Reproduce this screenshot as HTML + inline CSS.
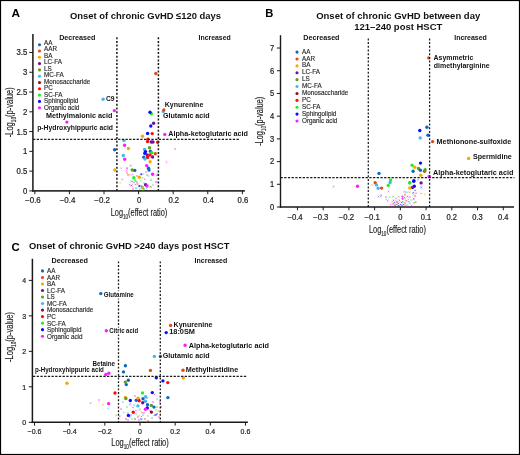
<!DOCTYPE html>
<html><head><meta charset="utf-8"><style>
html,body{margin:0;padding:0;background:#fff;}
body{width:520px;height:455px;overflow:hidden;}
svg{display:block;font-family:"Liberation Sans",sans-serif;will-change:transform;}
</style></head><body>
<svg width="520" height="455" viewBox="0 0 520 455">
<text x="11.4" y="16.9" font-size="11.8" font-weight="bold" text-anchor="start" fill="#000">A</text>
<text x="70" y="18.8" font-size="9.9" font-weight="bold" text-anchor="start" fill="#111" textLength="151" lengthAdjust="spacingAndGlyphs">Onset of chronic GvHD ≤120 days</text>
<text x="265.3" y="16.8" font-size="11.2" font-weight="bold" text-anchor="start" fill="#000">B</text>
<text x="316.2" y="18.5" font-size="9.9" font-weight="bold" text-anchor="start" fill="#111" textLength="164" lengthAdjust="spacingAndGlyphs">Onset of chronic GvHD between day</text>
<text x="354.3" y="30.4" font-size="9.9" font-weight="bold" text-anchor="start" fill="#111" textLength="88" lengthAdjust="spacingAndGlyphs">121–240 post HSCT</text>
<text x="11.6" y="251.2" font-size="11.4" font-weight="bold" text-anchor="start" fill="#000">C</text>
<text x="29" y="248.9" font-size="9.9" font-weight="bold" text-anchor="start" fill="#111" textLength="200.5" lengthAdjust="spacingAndGlyphs">Onset of chronic GvHD &gt;240 days post HSCT</text>
<line x1="32.9" y1="34" x2="32.9" y2="191.75" stroke="#333" stroke-width="1.7"/>
<line x1="32.05" y1="190.9" x2="244.9" y2="190.9" stroke="#333" stroke-width="1.7"/>
<line x1="29.299999999999997" y1="190.9" x2="32.9" y2="190.9" stroke="#1a1a1a" stroke-width="1.0"/>
<text x="27.3" y="193.88" font-size="8.4" font-weight="normal" text-anchor="end" fill="#222" textLength="4.3" lengthAdjust="spacingAndGlyphs" stroke="#222" stroke-width="0.22">0</text>
<line x1="29.299999999999997" y1="171.125" x2="32.9" y2="171.125" stroke="#1a1a1a" stroke-width="1.0"/>
<text x="27.3" y="174.11" font-size="8.4" font-weight="normal" text-anchor="end" fill="#222" textLength="10.74" lengthAdjust="spacingAndGlyphs" stroke="#222" stroke-width="0.22">0.5</text>
<line x1="29.299999999999997" y1="151.35000000000002" x2="32.9" y2="151.35000000000002" stroke="#1a1a1a" stroke-width="1.0"/>
<text x="27.3" y="154.33" font-size="8.4" font-weight="normal" text-anchor="end" fill="#222" textLength="4.3" lengthAdjust="spacingAndGlyphs" stroke="#222" stroke-width="0.22">1</text>
<line x1="29.299999999999997" y1="131.57500000000002" x2="32.9" y2="131.57500000000002" stroke="#1a1a1a" stroke-width="1.0"/>
<text x="27.3" y="134.56" font-size="8.4" font-weight="normal" text-anchor="end" fill="#222" textLength="10.74" lengthAdjust="spacingAndGlyphs" stroke="#222" stroke-width="0.22">1.5</text>
<line x1="29.299999999999997" y1="111.80000000000001" x2="32.9" y2="111.80000000000001" stroke="#1a1a1a" stroke-width="1.0"/>
<text x="27.3" y="114.78" font-size="8.4" font-weight="normal" text-anchor="end" fill="#222" textLength="4.3" lengthAdjust="spacingAndGlyphs" stroke="#222" stroke-width="0.22">2</text>
<line x1="29.299999999999997" y1="92.025" x2="32.9" y2="92.025" stroke="#1a1a1a" stroke-width="1.0"/>
<text x="27.3" y="95.01" font-size="8.4" font-weight="normal" text-anchor="end" fill="#222" textLength="10.74" lengthAdjust="spacingAndGlyphs" stroke="#222" stroke-width="0.22">2.5</text>
<line x1="29.299999999999997" y1="72.25000000000001" x2="32.9" y2="72.25000000000001" stroke="#1a1a1a" stroke-width="1.0"/>
<text x="27.3" y="75.23" font-size="8.4" font-weight="normal" text-anchor="end" fill="#222" textLength="4.3" lengthAdjust="spacingAndGlyphs" stroke="#222" stroke-width="0.22">3</text>
<line x1="29.299999999999997" y1="52.47500000000002" x2="32.9" y2="52.47500000000002" stroke="#1a1a1a" stroke-width="1.0"/>
<text x="27.3" y="55.46" font-size="8.4" font-weight="normal" text-anchor="end" fill="#222" textLength="10.74" lengthAdjust="spacingAndGlyphs" stroke="#222" stroke-width="0.22">3.5</text>
<line x1="34.83" y1="190.9" x2="34.83" y2="194.20000000000002" stroke="#1a1a1a" stroke-width="1.0"/>
<text x="40.8" y="202.8" font-size="8.4" font-weight="normal" text-anchor="end" fill="#222" textLength="15.66" lengthAdjust="spacingAndGlyphs" stroke="#222" stroke-width="0.22">−0.6</text>
<line x1="69.42" y1="190.9" x2="69.42" y2="194.20000000000002" stroke="#1a1a1a" stroke-width="1.0"/>
<text x="75.39" y="202.8" font-size="8.4" font-weight="normal" text-anchor="end" fill="#222" textLength="15.66" lengthAdjust="spacingAndGlyphs" stroke="#222" stroke-width="0.22">−0.4</text>
<line x1="104.00999999999999" y1="190.9" x2="104.00999999999999" y2="194.20000000000002" stroke="#1a1a1a" stroke-width="1.0"/>
<text x="109.98" y="202.8" font-size="8.4" font-weight="normal" text-anchor="end" fill="#222" textLength="15.66" lengthAdjust="spacingAndGlyphs" stroke="#222" stroke-width="0.22">−0.2</text>
<line x1="138.6" y1="190.9" x2="138.6" y2="194.20000000000002" stroke="#1a1a1a" stroke-width="1.0"/>
<text x="139.2" y="202.8" font-size="8.4" font-weight="normal" text-anchor="middle" fill="#222" textLength="4.3" lengthAdjust="spacingAndGlyphs" stroke="#222" stroke-width="0.22">0</text>
<line x1="173.19" y1="190.9" x2="173.19" y2="194.20000000000002" stroke="#1a1a1a" stroke-width="1.0"/>
<text x="173.79" y="202.8" font-size="8.4" font-weight="normal" text-anchor="middle" fill="#222" textLength="10.74" lengthAdjust="spacingAndGlyphs" stroke="#222" stroke-width="0.22">0.2</text>
<line x1="207.77999999999997" y1="190.9" x2="207.77999999999997" y2="194.20000000000002" stroke="#1a1a1a" stroke-width="1.0"/>
<text x="208.38" y="202.8" font-size="8.4" font-weight="normal" text-anchor="middle" fill="#222" textLength="10.74" lengthAdjust="spacingAndGlyphs" stroke="#222" stroke-width="0.22">0.4</text>
<line x1="242.37" y1="190.9" x2="242.37" y2="194.20000000000002" stroke="#1a1a1a" stroke-width="1.0"/>
<text x="242.97" y="202.8" font-size="8.4" font-weight="normal" text-anchor="middle" fill="#222" textLength="10.74" lengthAdjust="spacingAndGlyphs" stroke="#222" stroke-width="0.22">0.6</text>
<line x1="280.5" y1="35.2" x2="280.5" y2="207.7" stroke="#1a1a1a" stroke-width="1.4"/>
<line x1="279.8" y1="207" x2="514" y2="207" stroke="#1a1a1a" stroke-width="1.4"/>
<line x1="276.9" y1="207.0" x2="280.5" y2="207.0" stroke="#1a1a1a" stroke-width="1.0"/>
<text x="274.2" y="209.91" font-size="8.2" font-weight="normal" text-anchor="end" fill="#222" textLength="4.2" lengthAdjust="spacingAndGlyphs" stroke="#222" stroke-width="0.22">0</text>
<line x1="276.9" y1="184.29" x2="280.5" y2="184.29" stroke="#1a1a1a" stroke-width="1.0"/>
<text x="274.2" y="187.2" font-size="8.2" font-weight="normal" text-anchor="end" fill="#222" textLength="4.2" lengthAdjust="spacingAndGlyphs" stroke="#222" stroke-width="0.22">1</text>
<line x1="276.9" y1="161.57999999999998" x2="280.5" y2="161.57999999999998" stroke="#1a1a1a" stroke-width="1.0"/>
<text x="274.2" y="164.49" font-size="8.2" font-weight="normal" text-anchor="end" fill="#222" textLength="4.2" lengthAdjust="spacingAndGlyphs" stroke="#222" stroke-width="0.22">2</text>
<line x1="276.9" y1="138.87" x2="280.5" y2="138.87" stroke="#1a1a1a" stroke-width="1.0"/>
<text x="274.2" y="141.78" font-size="8.2" font-weight="normal" text-anchor="end" fill="#222" textLength="4.2" lengthAdjust="spacingAndGlyphs" stroke="#222" stroke-width="0.22">3</text>
<line x1="276.9" y1="116.16" x2="280.5" y2="116.16" stroke="#1a1a1a" stroke-width="1.0"/>
<text x="274.2" y="119.07" font-size="8.2" font-weight="normal" text-anchor="end" fill="#222" textLength="4.2" lengthAdjust="spacingAndGlyphs" stroke="#222" stroke-width="0.22">4</text>
<line x1="276.9" y1="93.44999999999999" x2="280.5" y2="93.44999999999999" stroke="#1a1a1a" stroke-width="1.0"/>
<text x="274.2" y="96.36" font-size="8.2" font-weight="normal" text-anchor="end" fill="#222" textLength="4.2" lengthAdjust="spacingAndGlyphs" stroke="#222" stroke-width="0.22">5</text>
<line x1="276.9" y1="70.74000000000001" x2="280.5" y2="70.74000000000001" stroke="#1a1a1a" stroke-width="1.0"/>
<text x="274.2" y="73.65" font-size="8.2" font-weight="normal" text-anchor="end" fill="#222" textLength="4.2" lengthAdjust="spacingAndGlyphs" stroke="#222" stroke-width="0.22">6</text>
<line x1="276.9" y1="48.03" x2="280.5" y2="48.03" stroke="#1a1a1a" stroke-width="1.0"/>
<text x="274.2" y="50.94" font-size="8.2" font-weight="normal" text-anchor="end" fill="#222" textLength="4.2" lengthAdjust="spacingAndGlyphs" stroke="#222" stroke-width="0.22">7</text>
<line x1="297.45000000000005" y1="207" x2="297.45000000000005" y2="210.3" stroke="#1a1a1a" stroke-width="1.0"/>
<text x="302.69" y="219.6" font-size="8.2" font-weight="normal" text-anchor="end" fill="#222" textLength="15.29" lengthAdjust="spacingAndGlyphs" stroke="#222" stroke-width="0.22">−0.4</text>
<line x1="323.175" y1="207" x2="323.175" y2="210.3" stroke="#1a1a1a" stroke-width="1.0"/>
<text x="328.42" y="219.6" font-size="8.2" font-weight="normal" text-anchor="end" fill="#222" textLength="15.29" lengthAdjust="spacingAndGlyphs" stroke="#222" stroke-width="0.22">−0.3</text>
<line x1="348.90000000000003" y1="207" x2="348.90000000000003" y2="210.3" stroke="#1a1a1a" stroke-width="1.0"/>
<text x="354.14" y="219.6" font-size="8.2" font-weight="normal" text-anchor="end" fill="#222" textLength="15.29" lengthAdjust="spacingAndGlyphs" stroke="#222" stroke-width="0.22">−0.2</text>
<line x1="374.625" y1="207" x2="374.625" y2="210.3" stroke="#1a1a1a" stroke-width="1.0"/>
<text x="379.87" y="219.6" font-size="8.2" font-weight="normal" text-anchor="end" fill="#222" textLength="15.29" lengthAdjust="spacingAndGlyphs" stroke="#222" stroke-width="0.22">−0.1</text>
<line x1="400.35" y1="207" x2="400.35" y2="210.3" stroke="#1a1a1a" stroke-width="1.0"/>
<text x="400.35" y="219.6" font-size="8.2" font-weight="normal" text-anchor="middle" fill="#222" textLength="4.2" lengthAdjust="spacingAndGlyphs" stroke="#222" stroke-width="0.22">0</text>
<line x1="426.07500000000005" y1="207" x2="426.07500000000005" y2="210.3" stroke="#1a1a1a" stroke-width="1.0"/>
<text x="426.08" y="219.6" font-size="8.2" font-weight="normal" text-anchor="middle" fill="#222" textLength="10.49" lengthAdjust="spacingAndGlyphs" stroke="#222" stroke-width="0.22">0.1</text>
<line x1="451.8" y1="207" x2="451.8" y2="210.3" stroke="#1a1a1a" stroke-width="1.0"/>
<text x="451.8" y="219.6" font-size="8.2" font-weight="normal" text-anchor="middle" fill="#222" textLength="10.49" lengthAdjust="spacingAndGlyphs" stroke="#222" stroke-width="0.22">0.2</text>
<line x1="477.52500000000003" y1="207" x2="477.52500000000003" y2="210.3" stroke="#1a1a1a" stroke-width="1.0"/>
<text x="477.53" y="219.6" font-size="8.2" font-weight="normal" text-anchor="middle" fill="#222" textLength="10.49" lengthAdjust="spacingAndGlyphs" stroke="#222" stroke-width="0.22">0.3</text>
<line x1="503.25" y1="207" x2="503.25" y2="210.3" stroke="#1a1a1a" stroke-width="1.0"/>
<text x="503.25" y="219.6" font-size="8.2" font-weight="normal" text-anchor="middle" fill="#222" textLength="10.49" lengthAdjust="spacingAndGlyphs" stroke="#222" stroke-width="0.22">0.4</text>
<line x1="32.4" y1="258.75" x2="32.4" y2="423.05" stroke="#1a1a1a" stroke-width="1.5"/>
<line x1="31.65" y1="422.3" x2="247.9" y2="422.3" stroke="#1a1a1a" stroke-width="1.5"/>
<line x1="28.799999999999997" y1="422.3" x2="32.4" y2="422.3" stroke="#1a1a1a" stroke-width="1.0"/>
<text x="26.1" y="425.0" font-size="7.6" font-weight="normal" text-anchor="end" fill="#222" textLength="3.89" lengthAdjust="spacingAndGlyphs" stroke="#222" stroke-width="0.22">0</text>
<line x1="28.799999999999997" y1="386.82" x2="32.4" y2="386.82" stroke="#1a1a1a" stroke-width="1.0"/>
<text x="26.1" y="389.52" font-size="7.6" font-weight="normal" text-anchor="end" fill="#222" textLength="3.89" lengthAdjust="spacingAndGlyphs" stroke="#222" stroke-width="0.22">1</text>
<line x1="28.799999999999997" y1="351.34000000000003" x2="32.4" y2="351.34000000000003" stroke="#1a1a1a" stroke-width="1.0"/>
<text x="26.1" y="354.04" font-size="7.6" font-weight="normal" text-anchor="end" fill="#222" textLength="3.89" lengthAdjust="spacingAndGlyphs" stroke="#222" stroke-width="0.22">2</text>
<line x1="28.799999999999997" y1="315.86" x2="32.4" y2="315.86" stroke="#1a1a1a" stroke-width="1.0"/>
<text x="26.1" y="318.56" font-size="7.6" font-weight="normal" text-anchor="end" fill="#222" textLength="3.89" lengthAdjust="spacingAndGlyphs" stroke="#222" stroke-width="0.22">3</text>
<line x1="28.799999999999997" y1="280.38" x2="32.4" y2="280.38" stroke="#1a1a1a" stroke-width="1.0"/>
<text x="26.1" y="283.08" font-size="7.6" font-weight="normal" text-anchor="end" fill="#222" textLength="3.89" lengthAdjust="spacingAndGlyphs" stroke="#222" stroke-width="0.22">4</text>
<line x1="34.519999999999996" y1="422.3" x2="34.519999999999996" y2="425.6" stroke="#1a1a1a" stroke-width="1.0"/>
<text x="34.52" y="434.0" font-size="7.6" font-weight="normal" text-anchor="middle" fill="#222" textLength="13.8" lengthAdjust="spacingAndGlyphs" stroke="#222" stroke-width="0.22">−0.6</text>
<line x1="69.67999999999999" y1="422.3" x2="69.67999999999999" y2="425.6" stroke="#1a1a1a" stroke-width="1.0"/>
<text x="69.68" y="434.0" font-size="7.6" font-weight="normal" text-anchor="middle" fill="#222" textLength="13.8" lengthAdjust="spacingAndGlyphs" stroke="#222" stroke-width="0.22">−0.4</text>
<line x1="104.84" y1="422.3" x2="104.84" y2="425.6" stroke="#1a1a1a" stroke-width="1.0"/>
<text x="104.84" y="434.0" font-size="7.6" font-weight="normal" text-anchor="middle" fill="#222" textLength="13.8" lengthAdjust="spacingAndGlyphs" stroke="#222" stroke-width="0.22">−0.2</text>
<line x1="140.0" y1="422.3" x2="140.0" y2="425.6" stroke="#1a1a1a" stroke-width="1.0"/>
<text x="140.0" y="434.0" font-size="7.6" font-weight="normal" text-anchor="middle" fill="#222" textLength="3.89" lengthAdjust="spacingAndGlyphs" stroke="#222" stroke-width="0.22">0</text>
<line x1="175.16" y1="422.3" x2="175.16" y2="425.6" stroke="#1a1a1a" stroke-width="1.0"/>
<text x="175.16" y="434.0" font-size="7.6" font-weight="normal" text-anchor="middle" fill="#222" textLength="9.72" lengthAdjust="spacingAndGlyphs" stroke="#222" stroke-width="0.22">0.2</text>
<line x1="210.32" y1="422.3" x2="210.32" y2="425.6" stroke="#1a1a1a" stroke-width="1.0"/>
<text x="210.32" y="434.0" font-size="7.6" font-weight="normal" text-anchor="middle" fill="#222" textLength="9.72" lengthAdjust="spacingAndGlyphs" stroke="#222" stroke-width="0.22">0.4</text>
<line x1="245.48000000000002" y1="422.3" x2="245.48000000000002" y2="425.6" stroke="#1a1a1a" stroke-width="1.0"/>
<text x="245.48" y="434.0" font-size="7.6" font-weight="normal" text-anchor="middle" fill="#222" textLength="9.72" lengthAdjust="spacingAndGlyphs" stroke="#222" stroke-width="0.22">0.6</text>
<g transform="translate(12.6,112.3) rotate(-90)"><text x="0" y="0" font-size="10.2" text-anchor="middle" fill="#222" stroke="#222" stroke-width="0.15" textLength="50" lengthAdjust="spacingAndGlyphs">-Log<tspan font-size="6.3" dy="3">10</tspan><tspan dy="-3">(p-value)</tspan></text></g>
<text x="139" y="215.8" font-size="10.2" text-anchor="middle" fill="#222" stroke="#222" stroke-width="0.15" textLength="56.5" lengthAdjust="spacingAndGlyphs">Log<tspan font-size="6.3" dy="3">10</tspan><tspan dy="-3">(effect ratio)</tspan></text>
<g transform="translate(263.4,121.3) rotate(-90)"><text x="0" y="0" font-size="10.2" text-anchor="middle" fill="#222" stroke="#222" stroke-width="0.15" textLength="49" lengthAdjust="spacingAndGlyphs">-Log<tspan font-size="6.3" dy="3">10</tspan><tspan dy="-3">(p-value)</tspan></text></g>
<text x="397.4" y="232.8" font-size="10.2" text-anchor="middle" fill="#222" stroke="#222" stroke-width="0.15" textLength="57" lengthAdjust="spacingAndGlyphs">Log<tspan font-size="6.3" dy="3">10</tspan><tspan dy="-3">(effect ratio)</tspan></text>
<g transform="translate(12.6,337) rotate(-90)"><text x="0" y="0" font-size="10.2" text-anchor="middle" fill="#222" stroke="#222" stroke-width="0.15" textLength="50" lengthAdjust="spacingAndGlyphs">-Log<tspan font-size="6.3" dy="3">10</tspan><tspan dy="-3">(p-value)</tspan></text></g>
<text x="140" y="446.3" font-size="10.2" text-anchor="middle" fill="#222" stroke="#222" stroke-width="0.15" textLength="57.5" lengthAdjust="spacingAndGlyphs">Log<tspan font-size="6.3" dy="3">10</tspan><tspan dy="-3">(effect ratio)</tspan></text>
<text x="59.2" y="40" font-size="7.5" font-weight="bold" text-anchor="start" fill="#111" textLength="36.2" lengthAdjust="spacingAndGlyphs">Decreased</text>
<text x="198.5" y="40" font-size="7.5" font-weight="bold" text-anchor="start" fill="#111" textLength="32.3" lengthAdjust="spacingAndGlyphs">Increased</text>
<text x="303.3" y="40.1" font-size="7.5" font-weight="bold" text-anchor="start" fill="#111" textLength="36.2" lengthAdjust="spacingAndGlyphs">Decreased</text>
<text x="454.2" y="40" font-size="7.5" font-weight="bold" text-anchor="start" fill="#111" textLength="32.7" lengthAdjust="spacingAndGlyphs">Increased</text>
<text x="51.5" y="263.3" font-size="7.5" font-weight="bold" text-anchor="start" fill="#111" textLength="36.5" lengthAdjust="spacingAndGlyphs">Decreased</text>
<text x="194.6" y="263.3" font-size="7.5" font-weight="bold" text-anchor="start" fill="#111" textLength="32.7" lengthAdjust="spacingAndGlyphs">Increased</text>
<circle cx="39.5" cy="44.7" r="1.55" fill="#0a66c2"/>
<text x="44.0" y="44.8" font-size="6.3" font-weight="normal" text-anchor="start" fill="#2a2a2a" stroke="#2a2a2a" stroke-width="0.15">AA</text>
<circle cx="39.5" cy="51.0" r="1.55" fill="#e2471a"/>
<text x="44.0" y="51.29" font-size="6.3" font-weight="normal" text-anchor="start" fill="#2a2a2a" stroke="#2a2a2a" stroke-width="0.15">AAR</text>
<circle cx="39.5" cy="57.3" r="1.55" fill="#f2a900"/>
<text x="44.0" y="57.78" font-size="6.3" font-weight="normal" text-anchor="start" fill="#2a2a2a" stroke="#2a2a2a" stroke-width="0.15">BA</text>
<circle cx="39.5" cy="63.6" r="1.55" fill="#70109a"/>
<text x="44.0" y="64.27" font-size="6.3" font-weight="normal" text-anchor="start" fill="#2a2a2a" stroke="#2a2a2a" stroke-width="0.15">LC-FA</text>
<circle cx="39.5" cy="69.9" r="1.55" fill="#5e9e20"/>
<text x="44.0" y="70.76" font-size="6.3" font-weight="normal" text-anchor="start" fill="#2a2a2a" stroke="#2a2a2a" stroke-width="0.15">LS</text>
<circle cx="39.5" cy="76.2" r="1.55" fill="#3db8f5"/>
<text x="44.0" y="77.25" font-size="6.3" font-weight="normal" text-anchor="start" fill="#2a2a2a" stroke="#2a2a2a" stroke-width="0.15">MC-FA</text>
<circle cx="39.5" cy="82.5" r="1.55" fill="#8b1020"/>
<text x="44.0" y="83.74" font-size="6.3" font-weight="normal" text-anchor="start" fill="#2a2a2a" stroke="#2a2a2a" stroke-width="0.15">Monosaccharide</text>
<circle cx="39.5" cy="88.8" r="1.55" fill="#ff0a0a"/>
<text x="44.0" y="90.23" font-size="6.3" font-weight="normal" text-anchor="start" fill="#2a2a2a" stroke="#2a2a2a" stroke-width="0.15">PC</text>
<circle cx="39.5" cy="95.1" r="1.55" fill="#22ee22"/>
<text x="44.0" y="96.72" font-size="6.3" font-weight="normal" text-anchor="start" fill="#2a2a2a" stroke="#2a2a2a" stroke-width="0.15">SC-FA</text>
<circle cx="39.5" cy="101.4" r="1.55" fill="#0a0aff"/>
<text x="44.0" y="103.21" font-size="6.3" font-weight="normal" text-anchor="start" fill="#2a2a2a" stroke="#2a2a2a" stroke-width="0.15">Sphingolipid</text>
<circle cx="39.5" cy="107.7" r="1.55" fill="#ff1aff"/>
<text x="44.0" y="109.7" font-size="6.3" font-weight="normal" text-anchor="start" fill="#2a2a2a" stroke="#2a2a2a" stroke-width="0.15">Organic acid</text>
<circle cx="297.0" cy="52.1" r="1.55" fill="#0a66c2"/>
<text x="302.0" y="53.7" font-size="6.3" font-weight="normal" text-anchor="start" fill="#2a2a2a" stroke="#2a2a2a" stroke-width="0.15">AA</text>
<circle cx="297.0" cy="58.99" r="1.55" fill="#e2471a"/>
<text x="302.0" y="60.59" font-size="6.3" font-weight="normal" text-anchor="start" fill="#2a2a2a" stroke="#2a2a2a" stroke-width="0.15">AAR</text>
<circle cx="297.0" cy="65.88" r="1.55" fill="#f2a900"/>
<text x="302.0" y="67.48" font-size="6.3" font-weight="normal" text-anchor="start" fill="#2a2a2a" stroke="#2a2a2a" stroke-width="0.15">BA</text>
<circle cx="297.0" cy="72.77" r="1.55" fill="#70109a"/>
<text x="302.0" y="74.37" font-size="6.3" font-weight="normal" text-anchor="start" fill="#2a2a2a" stroke="#2a2a2a" stroke-width="0.15">LC-FA</text>
<circle cx="297.0" cy="79.66" r="1.55" fill="#5e9e20"/>
<text x="302.0" y="81.26" font-size="6.3" font-weight="normal" text-anchor="start" fill="#2a2a2a" stroke="#2a2a2a" stroke-width="0.15">LS</text>
<circle cx="297.0" cy="86.55" r="1.55" fill="#3db8f5"/>
<text x="302.0" y="88.15" font-size="6.3" font-weight="normal" text-anchor="start" fill="#2a2a2a" stroke="#2a2a2a" stroke-width="0.15">MC-FA</text>
<circle cx="297.0" cy="93.44" r="1.55" fill="#8b1020"/>
<text x="302.0" y="95.04" font-size="6.3" font-weight="normal" text-anchor="start" fill="#2a2a2a" stroke="#2a2a2a" stroke-width="0.15">Monosaccharide</text>
<circle cx="297.0" cy="100.33" r="1.55" fill="#ff0a0a"/>
<text x="302.0" y="101.93" font-size="6.3" font-weight="normal" text-anchor="start" fill="#2a2a2a" stroke="#2a2a2a" stroke-width="0.15">PC</text>
<circle cx="297.0" cy="107.22" r="1.55" fill="#22ee22"/>
<text x="302.0" y="108.82" font-size="6.3" font-weight="normal" text-anchor="start" fill="#2a2a2a" stroke="#2a2a2a" stroke-width="0.15">SC-FA</text>
<circle cx="297.0" cy="114.11" r="1.55" fill="#0a0aff"/>
<text x="302.0" y="115.71" font-size="6.3" font-weight="normal" text-anchor="start" fill="#2a2a2a" stroke="#2a2a2a" stroke-width="0.15">Sphingolipid</text>
<circle cx="297.0" cy="121.0" r="1.55" fill="#ff1aff"/>
<text x="302.0" y="122.6" font-size="6.3" font-weight="normal" text-anchor="start" fill="#2a2a2a" stroke="#2a2a2a" stroke-width="0.15">Organic acid</text>
<circle cx="42.5" cy="270.9" r="1.55" fill="#0a66c2"/>
<text x="47.1" y="273.3" font-size="6.3" font-weight="normal" text-anchor="start" fill="#2a2a2a" stroke="#2a2a2a" stroke-width="0.15">AA</text>
<circle cx="42.5" cy="277.43" r="1.55" fill="#e2471a"/>
<text x="47.1" y="279.83" font-size="6.3" font-weight="normal" text-anchor="start" fill="#2a2a2a" stroke="#2a2a2a" stroke-width="0.15">AAR</text>
<circle cx="42.5" cy="283.96" r="1.55" fill="#f2a900"/>
<text x="47.1" y="286.36" font-size="6.3" font-weight="normal" text-anchor="start" fill="#2a2a2a" stroke="#2a2a2a" stroke-width="0.15">BA</text>
<circle cx="42.5" cy="290.49" r="1.55" fill="#70109a"/>
<text x="47.1" y="292.89" font-size="6.3" font-weight="normal" text-anchor="start" fill="#2a2a2a" stroke="#2a2a2a" stroke-width="0.15">LC-FA</text>
<circle cx="42.5" cy="297.02" r="1.55" fill="#5e9e20"/>
<text x="47.1" y="299.42" font-size="6.3" font-weight="normal" text-anchor="start" fill="#2a2a2a" stroke="#2a2a2a" stroke-width="0.15">LS</text>
<circle cx="42.5" cy="303.55" r="1.55" fill="#3db8f5"/>
<text x="47.1" y="305.95" font-size="6.3" font-weight="normal" text-anchor="start" fill="#2a2a2a" stroke="#2a2a2a" stroke-width="0.15">MC-FA</text>
<circle cx="42.5" cy="310.08" r="1.55" fill="#8b1020"/>
<text x="47.1" y="312.48" font-size="6.3" font-weight="normal" text-anchor="start" fill="#2a2a2a" stroke="#2a2a2a" stroke-width="0.15">Monosaccharide</text>
<circle cx="42.5" cy="316.61" r="1.55" fill="#ff0a0a"/>
<text x="47.1" y="319.01" font-size="6.3" font-weight="normal" text-anchor="start" fill="#2a2a2a" stroke="#2a2a2a" stroke-width="0.15">PC</text>
<circle cx="42.5" cy="323.14" r="1.55" fill="#22ee22"/>
<text x="47.1" y="325.54" font-size="6.3" font-weight="normal" text-anchor="start" fill="#2a2a2a" stroke="#2a2a2a" stroke-width="0.15">SC-FA</text>
<circle cx="42.5" cy="329.67" r="1.55" fill="#0a0aff"/>
<text x="47.1" y="332.07" font-size="6.3" font-weight="normal" text-anchor="start" fill="#2a2a2a" stroke="#2a2a2a" stroke-width="0.15">Sphingolipid</text>
<circle cx="42.5" cy="336.2" r="1.55" fill="#ff1aff"/>
<text x="47.1" y="338.6" font-size="6.3" font-weight="normal" text-anchor="start" fill="#2a2a2a" stroke="#2a2a2a" stroke-width="0.15">Organic acid</text>
<path d="M120.4 167.39999999999998L122.0 169.0M120.4 169.0L122.0 167.39999999999998" stroke="#3db8f5" stroke-opacity="0.55" stroke-width="0.8"/>
<path d="M129.89999999999998 164.89999999999998L131.5 166.5M129.89999999999998 166.5L131.5 164.89999999999998" stroke="#0a66c2" stroke-opacity="0.55" stroke-width="0.8"/>
<path d="M126.4 167.7L128.0 169.3M126.4 169.3L128.0 167.7" stroke="#ff1aff" stroke-opacity="0.55" stroke-width="0.8"/>
<path d="M125.7 169.7L127.3 171.3M125.7 171.3L127.3 169.7" stroke="#ff1aff" stroke-opacity="0.55" stroke-width="0.8"/>
<path d="M126.2 172.1L127.8 173.70000000000002M126.2 173.70000000000002L127.8 172.1" stroke="#e2471a" stroke-opacity="0.55" stroke-width="0.8"/>
<path d="M127.2 174.2L128.8 175.8M127.2 175.8L128.8 174.2" stroke="#e2471a" stroke-opacity="0.55" stroke-width="0.8"/>
<path d="M128.89999999999998 174.1L130.5 175.70000000000002M128.89999999999998 175.70000000000002L130.5 174.1" stroke="#22ee22" stroke-opacity="0.55" stroke-width="0.8"/>
<path d="M131.5 173.79999999999998L133.10000000000002 175.4M131.5 175.4L133.10000000000002 173.79999999999998" stroke="#ff1aff" stroke-opacity="0.55" stroke-width="0.8"/>
<path d="M121.4 178.7L123.0 180.3M121.4 180.3L123.0 178.7" stroke="#ff1aff" stroke-opacity="0.55" stroke-width="0.8"/>
<path d="M119.3 182.0L120.89999999999999 183.60000000000002M119.3 183.60000000000002L120.89999999999999 182.0" stroke="#f2a900" stroke-opacity="0.55" stroke-width="0.8"/>
<path d="M131.1 180.6L132.70000000000002 182.20000000000002M131.1 182.20000000000002L132.70000000000002 180.6" stroke="#0a66c2" stroke-opacity="0.55" stroke-width="0.8"/>
<path d="M128.89999999999998 184.1L130.5 185.70000000000002M128.89999999999998 185.70000000000002L130.5 184.1" stroke="#ff1aff" stroke-opacity="0.55" stroke-width="0.8"/>
<path d="M130.7 184.7L132.3 186.3M130.7 186.3L132.3 184.7" stroke="#ff0a0a" stroke-opacity="0.55" stroke-width="0.8"/>
<path d="M136.7 183.2L138.3 184.8M136.7 184.8L138.3 183.2" stroke="#ff0a0a" stroke-opacity="0.55" stroke-width="0.8"/>
<path d="M135.2 187.2L136.8 188.8M135.2 188.8L136.8 187.2" stroke="#3db8f5" stroke-opacity="0.55" stroke-width="0.8"/>
<path d="M174.2 148.1L175.8 149.70000000000002M174.2 149.70000000000002L175.8 148.1" stroke="#e2471a" stroke-opacity="0.55" stroke-width="0.8"/>
<path d="M165.7 161.29999999999998L167.3 162.9M165.7 162.9L167.3 161.29999999999998" stroke="#ff1aff" stroke-opacity="0.55" stroke-width="0.8"/>
<path d="M156.7 173.2L158.3 174.8M156.7 174.8L158.3 173.2" stroke="#ff1aff" stroke-opacity="0.55" stroke-width="0.8"/>
<path d="M156.2 174.7L157.8 176.3M156.2 176.3L157.8 174.7" stroke="#70109a" stroke-opacity="0.55" stroke-width="0.8"/>
<path d="M155.5 181.0L157.10000000000002 182.60000000000002M155.5 182.60000000000002L157.10000000000002 181.0" stroke="#ff1aff" stroke-opacity="0.55" stroke-width="0.8"/>
<path d="M149.79999999999998 185.89999999999998L151.4 187.5M149.79999999999998 187.5L151.4 185.89999999999998" stroke="#5e9e20" stroke-opacity="0.55" stroke-width="0.8"/>
<path d="M142.7 173.2L144.3 174.8M142.7 174.8L144.3 173.2" stroke="#3db8f5" stroke-opacity="0.55" stroke-width="0.8"/>
<path d="M146.2 174.2L147.8 175.8M146.2 175.8L147.8 174.2" stroke="#5e9e20" stroke-opacity="0.55" stroke-width="0.8"/>
<path d="M147.7 175.2L149.3 176.8M147.7 176.8L149.3 175.2" stroke="#3db8f5" stroke-opacity="0.55" stroke-width="0.8"/>
<path d="M141.39999999999998 177.0L143.0 178.60000000000002M141.39999999999998 178.60000000000002L143.0 177.0" stroke="#22ee22" stroke-opacity="0.55" stroke-width="0.8"/>
<path d="M139.7 179.7L141.3 181.3M139.7 181.3L141.3 179.7" stroke="#22ee22" stroke-opacity="0.55" stroke-width="0.8"/>
<path d="M143.89999999999998 178.39999999999998L145.5 180.0M143.89999999999998 180.0L145.5 178.39999999999998" stroke="#ff1aff" stroke-opacity="0.55" stroke-width="0.8"/>
<path d="M130.7 180.7L132.3 182.3M130.7 182.3L132.3 180.7" stroke="#3db8f5" stroke-opacity="0.55" stroke-width="0.8"/>
<path d="M133.2 181.7L134.8 183.3M133.2 183.3L134.8 181.7" stroke="#0a66c2" stroke-opacity="0.55" stroke-width="0.8"/>
<path d="M136.2 181.2L137.8 182.8M136.2 182.8L137.8 181.2" stroke="#e2471a" stroke-opacity="0.55" stroke-width="0.8"/>
<path d="M130.7 184.7L132.3 186.3M130.7 186.3L132.3 184.7" stroke="#ff1aff" stroke-opacity="0.55" stroke-width="0.8"/>
<path d="M140.7 185.2L142.3 186.8M140.7 186.8L142.3 185.2" stroke="#3db8f5" stroke-opacity="0.55" stroke-width="0.8"/>
<path d="M135.2 187.7L136.8 189.3M135.2 189.3L136.8 187.7" stroke="#3db8f5" stroke-opacity="0.55" stroke-width="0.8"/>
<path d="M139.2 188.2L140.8 189.8M139.2 189.8L140.8 188.2" stroke="#3db8f5" stroke-opacity="0.55" stroke-width="0.8"/>
<path d="M149.7 186.2L151.3 187.8M149.7 187.8L151.3 186.2" stroke="#5e9e20" stroke-opacity="0.55" stroke-width="0.8"/>
<path d="M155.7 181.2L157.3 182.8M155.7 182.8L157.3 181.2" stroke="#ff1aff" stroke-opacity="0.55" stroke-width="0.8"/>
<path d="M126.2 167.2L127.8 168.8M126.2 168.8L127.8 167.2" stroke="#ff1aff" stroke-opacity="0.55" stroke-width="0.8"/>
<path d="M145.2 171.2L146.8 172.8M145.2 172.8L146.8 171.2" stroke="#ff1aff" stroke-opacity="0.55" stroke-width="0.8"/>
<path d="M150.2 179.2L151.8 180.8M150.2 180.8L151.8 179.2" stroke="#5e9e20" stroke-opacity="0.55" stroke-width="0.8"/>
<path d="M152.2 184.2L153.8 185.8M152.2 185.8L153.8 184.2" stroke="#3db8f5" stroke-opacity="0.55" stroke-width="0.8"/>
<path d="M143.2 182.2L144.8 183.8M143.2 183.8L144.8 182.2" stroke="#3db8f5" stroke-opacity="0.55" stroke-width="0.8"/>
<path d="M138.2 185.7L139.8 187.3M138.2 187.3L139.8 185.7" stroke="#0a66c2" stroke-opacity="0.55" stroke-width="0.8"/>
<path d="M145.7 187.7L147.3 189.3M145.7 189.3L147.3 187.7" stroke="#3db8f5" stroke-opacity="0.55" stroke-width="0.8"/>
<path d="M142.2 189.2L143.8 190.8M142.2 190.8L143.8 189.2" stroke="#22ee22" stroke-opacity="0.55" stroke-width="0.8"/>
<path d="M132.2 188.2L133.8 189.8M132.2 189.8L133.8 188.2" stroke="#ff1aff" stroke-opacity="0.55" stroke-width="0.8"/>
<path d="M136.2 175.2L137.8 176.8M136.2 176.8L137.8 175.2" stroke="#e2471a" stroke-opacity="0.55" stroke-width="0.8"/>
<path d="M134.7 183.7L136.3 185.3M134.7 185.3L136.3 183.7" stroke="#ff1aff" stroke-opacity="0.55" stroke-width="0.8"/>
<circle cx="155.8" cy="73.5" r="1.68" fill="#e2471a"/>
<circle cx="103.1" cy="99.2" r="1.68" fill="#3db8f5"/>
<circle cx="114.4" cy="110.6" r="1.68" fill="#ff1aff"/>
<circle cx="66.9" cy="122.1" r="1.68" fill="#ff1aff"/>
<circle cx="151.4" cy="113.8" r="1.68" fill="#22ee22"/>
<circle cx="150" cy="112.3" r="1.68" fill="#0a0aff"/>
<circle cx="163.3" cy="111.6" r="1.68" fill="#3db8f5"/>
<circle cx="163.8" cy="110" r="1.68" fill="#e2471a"/>
<circle cx="153.6" cy="123.3" r="1.68" fill="#70109a"/>
<circle cx="150.8" cy="126" r="1.68" fill="#0a0aff"/>
<circle cx="147.6" cy="133.4" r="1.68" fill="#0a0aff"/>
<circle cx="152.2" cy="133.6" r="1.68" fill="#ff0a0a"/>
<circle cx="142.5" cy="136.3" r="1.68" fill="#f2a900"/>
<circle cx="164.8" cy="134.4" r="1.68" fill="#ff1aff"/>
<circle cx="148.0" cy="139.3" r="1.68" fill="#ff0a0a"/>
<circle cx="147.5" cy="141.6" r="1.68" fill="#ff0a0a"/>
<circle cx="151.2" cy="142" r="1.68" fill="#70109a"/>
<circle cx="153" cy="142" r="1.68" fill="#70109a"/>
<circle cx="157.7" cy="142.2" r="1.68" fill="#ff0a0a"/>
<circle cx="124" cy="140.6" r="1.68" fill="#3db8f5"/>
<circle cx="124.6" cy="145.3" r="1.68" fill="#ff1aff"/>
<circle cx="128.4" cy="148.5" r="1.68" fill="#f2a900"/>
<circle cx="114.6" cy="149.7" r="1.68" fill="#0a66c2"/>
<circle cx="123.3" cy="155.5" r="1.68" fill="#3db8f5"/>
<circle cx="124.7" cy="159.3" r="1.68" fill="#ff1aff"/>
<circle cx="149.5" cy="147.7" r="1.68" fill="#5e9e20"/>
<circle cx="144.6" cy="149.5" r="1.68" fill="#3db8f5"/>
<circle cx="145.5" cy="151.6" r="1.68" fill="#0a0aff"/>
<circle cx="144.8" cy="153.2" r="1.68" fill="#0a0aff"/>
<circle cx="150.4" cy="151.3" r="1.68" fill="#0a66c2"/>
<circle cx="151.9" cy="152.8" r="1.68" fill="#22ee22"/>
<circle cx="155.3" cy="153.7" r="1.68" fill="#e2471a"/>
<circle cx="147.2" cy="155" r="1.68" fill="#70109a"/>
<circle cx="150" cy="155" r="1.68" fill="#ff0a0a"/>
<circle cx="147.6" cy="157.5" r="1.68" fill="#ff0a0a"/>
<circle cx="152.6" cy="157" r="1.68" fill="#70109a"/>
<circle cx="143.8" cy="157.3" r="1.68" fill="#0a66c2"/>
<circle cx="145" cy="159" r="1.68" fill="#3db8f5"/>
<circle cx="150.1" cy="161.7" r="1.68" fill="#f2a900"/>
<circle cx="146.7" cy="165.6" r="1.68" fill="#ff1aff"/>
<circle cx="149" cy="170" r="1.68" fill="#0a66c2"/>
<circle cx="148.5" cy="168.3" r="1.68" fill="#0a66c2"/>
<circle cx="114.8" cy="170" r="1.68" fill="#f2a900"/>
<circle cx="132.2" cy="170" r="1.68" fill="#5e9e20"/>
<circle cx="134.8" cy="170.4" r="1.68" fill="#0a66c2"/>
<circle cx="152.6" cy="174.2" r="1.68" fill="#ff1aff"/>
<circle cx="139.3" cy="177.2" r="1.68" fill="#f2a900"/>
<circle cx="133.8" cy="177.8" r="1.68" fill="#22ee22"/>
<circle cx="145.6" cy="184.7" r="1.68" fill="#70109a"/>
<circle cx="147" cy="186" r="1.68" fill="#ff1aff"/>
<circle cx="142.5" cy="187.5" r="1.68" fill="#f2a900"/>
<circle cx="135.2" cy="180.6" r="1.05" fill="#22ee22" fill-opacity="0.8"/>
<circle cx="141.3" cy="174.2" r="1.05" fill="#0a0aff" fill-opacity="0.8"/>
<circle cx="139.5" cy="186" r="1.05" fill="#0a0aff" fill-opacity="0.8"/>
<circle cx="143.8" cy="189" r="1.05" fill="#22ee22" fill-opacity="0.8"/>
<circle cx="141.5" cy="186.3" r="1.05" fill="#3db8f5" fill-opacity="0.8"/>
<path d="M332.7 185.79999999999998L334.3 187.4M332.7 187.4L334.3 185.79999999999998" stroke="#ff1aff" stroke-opacity="0.55" stroke-width="0.8"/>
<path d="M371.0 184.2L372.6 185.8M371.0 185.8L372.6 184.2" stroke="#f2a900" stroke-opacity="0.55" stroke-width="0.8"/>
<path d="M377.7 195.7L379.3 197.3M377.7 197.3L379.3 195.7" stroke="#0a66c2" stroke-opacity="0.55" stroke-width="0.8"/>
<path d="M380.2 195.5L381.8 197.10000000000002M380.2 197.10000000000002L381.8 195.5" stroke="#ff1aff" stroke-opacity="0.55" stroke-width="0.8"/>
<path d="M380.2 194.2L381.8 195.8M380.2 195.8L381.8 194.2" stroke="#3db8f5" stroke-opacity="0.55" stroke-width="0.8"/>
<path d="M417.2 179.2L418.8 180.8M417.2 180.8L418.8 179.2" stroke="#3db8f5" stroke-opacity="0.55" stroke-width="0.8"/>
<path d="M387.7 190.7L389.3 192.3M387.7 192.3L389.3 190.7" stroke="#ff1aff" stroke-opacity="0.55" stroke-width="0.8"/>
<path d="M385.2 196.2L386.8 197.8M385.2 197.8L386.8 196.2" stroke="#ff1aff" stroke-opacity="0.55" stroke-width="0.8"/>
<path d="M388.8 196.5L390.40000000000003 198.10000000000002M388.8 198.10000000000002L390.40000000000003 196.5" stroke="#22ee22" stroke-opacity="0.55" stroke-width="0.8"/>
<path d="M392.2 195.89999999999998L393.8 197.5M392.2 197.5L393.8 195.89999999999998" stroke="#5e9e20" stroke-opacity="0.55" stroke-width="0.8"/>
<path d="M398.0 195.89999999999998L399.6 197.5M398.0 197.5L399.6 195.89999999999998" stroke="#5e9e20" stroke-opacity="0.55" stroke-width="0.8"/>
<path d="M385.5 198.6L387.1 200.20000000000002M385.5 200.20000000000002L387.1 198.6" stroke="#3db8f5" stroke-opacity="0.55" stroke-width="0.8"/>
<path d="M386.9 200.1L388.5 201.70000000000002M386.9 201.70000000000002L388.5 200.1" stroke="#ff1aff" stroke-opacity="0.55" stroke-width="0.8"/>
<path d="M392.7 199.6L394.3 201.20000000000002M392.7 201.20000000000002L394.3 199.6" stroke="#ff0a0a" stroke-opacity="0.55" stroke-width="0.8"/>
<path d="M395.09999999999997 200.1L396.7 201.70000000000002M395.09999999999997 201.70000000000002L396.7 200.1" stroke="#3db8f5" stroke-opacity="0.55" stroke-width="0.8"/>
<path d="M393.59999999999997 202.0L395.2 203.60000000000002M393.59999999999997 203.60000000000002L395.2 202.0" stroke="#0a0aff" stroke-opacity="0.55" stroke-width="0.8"/>
<path d="M391.2 201.5L392.8 203.10000000000002M391.2 203.10000000000002L392.8 201.5" stroke="#f2a900" stroke-opacity="0.55" stroke-width="0.8"/>
<path d="M389.8 203.89999999999998L391.40000000000003 205.5M389.8 205.5L391.40000000000003 203.89999999999998" stroke="#ff1aff" stroke-opacity="0.55" stroke-width="0.8"/>
<path d="M398.4 199.6L400.0 201.20000000000002M398.4 201.20000000000002L400.0 199.6" stroke="#ff0a0a" stroke-opacity="0.55" stroke-width="0.8"/>
<path d="M397.5 202.5L399.1 204.10000000000002M397.5 204.10000000000002L399.1 202.5" stroke="#0a0aff" stroke-opacity="0.55" stroke-width="0.8"/>
<path d="M396.0 203.89999999999998L397.6 205.5M396.0 205.5L397.6 203.89999999999998" stroke="#70109a" stroke-opacity="0.55" stroke-width="0.8"/>
<path d="M401.8 198.6L403.40000000000003 200.20000000000002M401.8 200.20000000000002L403.40000000000003 198.6" stroke="#ff1aff" stroke-opacity="0.55" stroke-width="0.8"/>
<path d="M400.8 201.5L402.40000000000003 203.10000000000002M400.8 203.10000000000002L402.40000000000003 201.5" stroke="#0a0aff" stroke-opacity="0.55" stroke-width="0.8"/>
<path d="M399.9 203.89999999999998L401.5 205.5M399.9 205.5L401.5 203.89999999999998" stroke="#0a0aff" stroke-opacity="0.55" stroke-width="0.8"/>
<path d="M403.7 196.7L405.3 198.3M403.7 198.3L405.3 196.7" stroke="#ff0a0a" stroke-opacity="0.55" stroke-width="0.8"/>
<path d="M404.2 193.79999999999998L405.8 195.4M404.2 195.4L405.8 193.79999999999998" stroke="#ff0a0a" stroke-opacity="0.55" stroke-width="0.8"/>
<path d="M403.7 190.89999999999998L405.3 192.5M403.7 192.5L405.3 190.89999999999998" stroke="#ff1aff" stroke-opacity="0.55" stroke-width="0.8"/>
<path d="M405.2 191.39999999999998L406.8 193.0M405.2 193.0L406.8 191.39999999999998" stroke="#3db8f5" stroke-opacity="0.55" stroke-width="0.8"/>
<path d="M407.09999999999997 191.39999999999998L408.7 193.0M407.09999999999997 193.0L408.7 191.39999999999998" stroke="#f2a900" stroke-opacity="0.55" stroke-width="0.8"/>
<path d="M409.0 191.39999999999998L410.6 193.0M409.0 193.0L410.6 191.39999999999998" stroke="#f2a900" stroke-opacity="0.55" stroke-width="0.8"/>
<path d="M406.59999999999997 195.7L408.2 197.3M406.59999999999997 197.3L408.2 195.7" stroke="#ff0a0a" stroke-opacity="0.55" stroke-width="0.8"/>
<path d="M409.0 196.2L410.6 197.8M409.0 197.8L410.6 196.2" stroke="#ff1aff" stroke-opacity="0.55" stroke-width="0.8"/>
<path d="M404.2 198.6L405.8 200.20000000000002M404.2 200.20000000000002L405.8 198.6" stroke="#22ee22" stroke-opacity="0.55" stroke-width="0.8"/>
<path d="M405.59999999999997 200.1L407.2 201.70000000000002M405.59999999999997 201.70000000000002L407.2 200.1" stroke="#ff0a0a" stroke-opacity="0.55" stroke-width="0.8"/>
<path d="M407.59999999999997 198.6L409.2 200.20000000000002M407.59999999999997 200.20000000000002L409.2 198.6" stroke="#3db8f5" stroke-opacity="0.55" stroke-width="0.8"/>
<path d="M408.0 201.0L409.6 202.60000000000002M408.0 202.60000000000002L409.6 201.0" stroke="#ff1aff" stroke-opacity="0.55" stroke-width="0.8"/>
<path d="M404.2 202.5L405.8 204.10000000000002M404.2 204.10000000000002L405.8 202.5" stroke="#ff0a0a" stroke-opacity="0.55" stroke-width="0.8"/>
<path d="M406.59999999999997 203.89999999999998L408.2 205.5M406.59999999999997 205.5L408.2 203.89999999999998" stroke="#22ee22" stroke-opacity="0.55" stroke-width="0.8"/>
<path d="M402.8 203.89999999999998L404.40000000000003 205.5M402.8 205.5L404.40000000000003 203.89999999999998" stroke="#0a0aff" stroke-opacity="0.55" stroke-width="0.8"/>
<path d="M412.4 193.79999999999998L414.0 195.4M412.4 195.4L414.0 193.79999999999998" stroke="#3db8f5" stroke-opacity="0.55" stroke-width="0.8"/>
<path d="M414.3 195.2L415.90000000000003 196.8M414.3 196.8L415.90000000000003 195.2" stroke="#ff0a0a" stroke-opacity="0.55" stroke-width="0.8"/>
<path d="M412.9 198.1L414.5 199.70000000000002M412.9 199.70000000000002L414.5 198.1" stroke="#0a0aff" stroke-opacity="0.55" stroke-width="0.8"/>
<path d="M412.4 191.89999999999998L414.0 193.5M412.4 193.5L414.0 191.89999999999998" stroke="#0a0aff" stroke-opacity="0.55" stroke-width="0.8"/>
<path d="M415.2 192.39999999999998L416.8 194.0M415.2 194.0L416.8 192.39999999999998" stroke="#ff1aff" stroke-opacity="0.55" stroke-width="0.8"/>
<path d="M414.3 189.5L415.90000000000003 191.10000000000002M414.3 191.10000000000002L415.90000000000003 189.5" stroke="#0a0aff" stroke-opacity="0.55" stroke-width="0.8"/>
<path d="M420.5 186.6L422.1 188.20000000000002M420.5 188.20000000000002L422.1 186.6" stroke="#0a0aff" stroke-opacity="0.55" stroke-width="0.8"/>
<path d="M420.4 192.7L422.0 194.3M420.4 194.3L422.0 192.7" stroke="#5e9e20" stroke-opacity="0.55" stroke-width="0.8"/>
<path d="M423.9 193.79999999999998L425.5 195.4M423.9 195.4L425.5 193.79999999999998" stroke="#f2a900" stroke-opacity="0.55" stroke-width="0.8"/>
<path d="M413.3 202.0L414.90000000000003 203.60000000000002M413.3 203.60000000000002L414.90000000000003 202.0" stroke="#5e9e20" stroke-opacity="0.55" stroke-width="0.8"/>
<path d="M414.8 201.29999999999998L416.40000000000003 202.9M414.8 202.9L416.40000000000003 201.29999999999998" stroke="#ff0a0a" stroke-opacity="0.55" stroke-width="0.8"/>
<path d="M409.0 202.5L410.6 204.10000000000002M409.0 204.10000000000002L410.6 202.5" stroke="#22ee22" stroke-opacity="0.55" stroke-width="0.8"/>
<path d="M398.0 204.89999999999998L399.6 206.5M398.0 206.5L399.6 204.89999999999998" stroke="#0a0aff" stroke-opacity="0.55" stroke-width="0.8"/>
<path d="M394.09999999999997 204.39999999999998L395.7 206.0M394.09999999999997 206.0L395.7 204.39999999999998" stroke="#70109a" stroke-opacity="0.55" stroke-width="0.8"/>
<path d="M392.2 203.39999999999998L393.8 205.0M392.2 205.0L393.8 203.39999999999998" stroke="#ff1aff" stroke-opacity="0.55" stroke-width="0.8"/>
<path d="M401.3 204.39999999999998L402.90000000000003 206.0M401.3 206.0L402.90000000000003 204.39999999999998" stroke="#ff1aff" stroke-opacity="0.55" stroke-width="0.8"/>
<path d="M395.2 197.7L396.8 199.3M395.2 199.3L396.8 197.7" stroke="#ff1aff" stroke-opacity="0.55" stroke-width="0.8"/>
<path d="M410.2 199.2L411.8 200.8M410.2 200.8L411.8 199.2" stroke="#3db8f5" stroke-opacity="0.55" stroke-width="0.8"/>
<path d="M396.2 201.2L397.8 202.8M396.2 202.8L397.8 201.2" stroke="#ff0a0a" stroke-opacity="0.55" stroke-width="0.8"/>
<path d="M402.2 201.2L403.8 202.8M402.2 202.8L403.8 201.2" stroke="#3db8f5" stroke-opacity="0.55" stroke-width="0.8"/>
<path d="M405.2 205.2L406.8 206.8M405.2 206.8L406.8 205.2" stroke="#ff1aff" stroke-opacity="0.55" stroke-width="0.8"/>
<path d="M410.7 204.7L412.3 206.3M410.7 206.3L412.3 204.7" stroke="#ff1aff" stroke-opacity="0.55" stroke-width="0.8"/>
<circle cx="402.5" cy="198.5" r="1.1" fill="#ff1aff" fill-opacity="0.85"/>
<circle cx="402.5" cy="196.5" r="1.1" fill="#ff1aff" fill-opacity="0.85"/>
<circle cx="428.7" cy="57.9" r="1.68" fill="#e2471a"/>
<circle cx="426.9" cy="127.2" r="1.68" fill="#0a66c2"/>
<circle cx="419.8" cy="130.5" r="1.68" fill="#0a0aff"/>
<circle cx="428" cy="135.2" r="1.68" fill="#0a66c2"/>
<circle cx="420.2" cy="137.9" r="1.68" fill="#3db8f5"/>
<circle cx="432.6" cy="141.6" r="1.68" fill="#e2471a"/>
<circle cx="468.6" cy="158.5" r="1.68" fill="#f2a900"/>
<circle cx="420.5" cy="163.1" r="1.68" fill="#0a0aff"/>
<circle cx="412.1" cy="165.2" r="1.68" fill="#22ee22"/>
<circle cx="414.8" cy="167.2" r="1.68" fill="#f2a900"/>
<circle cx="418.5" cy="168.5" r="1.68" fill="#5e9e20"/>
<circle cx="420.4" cy="170.2" r="1.68" fill="#0a66c2"/>
<circle cx="424.5" cy="171.3" r="1.68" fill="#e2471a"/>
<circle cx="425.2" cy="169.8" r="1.68" fill="#5e9e20"/>
<circle cx="413.1" cy="171.3" r="1.68" fill="#0a66c2"/>
<circle cx="420.8" cy="175.3" r="1.68" fill="#f2a900"/>
<circle cx="429.2" cy="176.5" r="1.68" fill="#ff1aff"/>
<circle cx="413.9" cy="180.7" r="1.68" fill="#0a0aff"/>
<circle cx="409.7" cy="182.7" r="1.68" fill="#22ee22"/>
<circle cx="421.1" cy="182.9" r="1.68" fill="#70109a"/>
<circle cx="414.3" cy="186.3" r="1.68" fill="#0a0aff"/>
<circle cx="412.5" cy="187.5" r="1.68" fill="#70109a"/>
<circle cx="409.8" cy="187.9" r="1.68" fill="#f2a900"/>
<circle cx="379" cy="173.4" r="1.68" fill="#0a66c2"/>
<circle cx="375.2" cy="182.7" r="1.68" fill="#e2471a"/>
<circle cx="376.5" cy="184.9" r="1.68" fill="#3db8f5"/>
<circle cx="378.1" cy="188.3" r="1.68" fill="#3db8f5"/>
<circle cx="381.6" cy="188.1" r="1.68" fill="#e2471a"/>
<circle cx="390.6" cy="179.9" r="1.68" fill="#22ee22"/>
<circle cx="390.1" cy="182.5" r="1.68" fill="#3db8f5"/>
<circle cx="388.2" cy="185.4" r="1.68" fill="#22ee22"/>
<circle cx="409.8" cy="182.7" r="1.68" fill="#22ee22"/>
<circle cx="413.7" cy="181.2" r="1.68" fill="#0a0aff"/>
<circle cx="357.5" cy="186.2" r="1.68" fill="#ff1aff"/>
<path d="M89.8 402.4L91.39999999999999 404.0M89.8 404.0L91.39999999999999 402.4" stroke="#ff1aff" stroke-opacity="0.55" stroke-width="0.8"/>
<path d="M102.10000000000001 404.09999999999997L103.7 405.7M102.10000000000001 405.7L103.7 404.09999999999997" stroke="#f2a900" stroke-opacity="0.55" stroke-width="0.8"/>
<path d="M107.3 407.59999999999997L108.89999999999999 409.2M107.3 409.2L108.89999999999999 407.59999999999997" stroke="#3db8f5" stroke-opacity="0.55" stroke-width="0.8"/>
<path d="M115.4 414.5L117.0 416.1M115.4 416.1L117.0 414.5" stroke="#22ee22" stroke-opacity="0.55" stroke-width="0.8"/>
<path d="M119.0 415.5L120.6 417.1M119.0 417.1L120.6 415.5" stroke="#ff1aff" stroke-opacity="0.55" stroke-width="0.8"/>
<path d="M123.2 411.7L124.8 413.3M123.2 413.3L124.8 411.7" stroke="#3db8f5" stroke-opacity="0.55" stroke-width="0.8"/>
<path d="M126.2 406.2L127.8 407.8M126.2 407.8L127.8 406.2" stroke="#22ee22" stroke-opacity="0.55" stroke-width="0.8"/>
<path d="M132.2 406.7L133.8 408.3M132.2 408.3L133.8 406.7" stroke="#0a66c2" stroke-opacity="0.55" stroke-width="0.8"/>
<path d="M127.2 412.2L128.8 413.8M127.2 413.8L128.8 412.2" stroke="#22ee22" stroke-opacity="0.55" stroke-width="0.8"/>
<path d="M130.2 414.2L131.8 415.8M130.2 415.8L131.8 414.2" stroke="#ff1aff" stroke-opacity="0.55" stroke-width="0.8"/>
<path d="M135.2 409.7L136.8 411.3M135.2 411.3L136.8 409.7" stroke="#ff1aff" stroke-opacity="0.55" stroke-width="0.8"/>
<path d="M138.7 409.2L140.3 410.8M138.7 410.8L140.3 409.2" stroke="#3db8f5" stroke-opacity="0.55" stroke-width="0.8"/>
<path d="M139.2 408.2L140.8 409.8M139.2 409.8L140.8 408.2" stroke="#f2a900" stroke-opacity="0.55" stroke-width="0.8"/>
<path d="M141.2 411.7L142.8 413.3M141.2 413.3L142.8 411.7" stroke="#ff0a0a" stroke-opacity="0.55" stroke-width="0.8"/>
<path d="M143.2 412.2L144.8 413.8M143.2 413.8L144.8 412.2" stroke="#ff1aff" stroke-opacity="0.55" stroke-width="0.8"/>
<path d="M142.2 414.2L143.8 415.8M142.2 415.8L143.8 414.2" stroke="#3db8f5" stroke-opacity="0.55" stroke-width="0.8"/>
<path d="M137.2 416.2L138.8 417.8M137.2 417.8L138.8 416.2" stroke="#ff1aff" stroke-opacity="0.55" stroke-width="0.8"/>
<path d="M138.2 415.2L139.8 416.8M138.2 416.8L139.8 415.2" stroke="#f2a900" stroke-opacity="0.55" stroke-width="0.8"/>
<path d="M131.2 418.2L132.8 419.8M131.2 419.8L132.8 418.2" stroke="#22ee22" stroke-opacity="0.55" stroke-width="0.8"/>
<path d="M125.2 418.2L126.8 419.8M125.2 419.8L126.8 418.2" stroke="#ff0a0a" stroke-opacity="0.55" stroke-width="0.8"/>
<path d="M134.2 418.2L135.8 419.8M134.2 419.8L135.8 418.2" stroke="#70109a" stroke-opacity="0.55" stroke-width="0.8"/>
<path d="M138.2 419.2L139.8 420.8M138.2 420.8L139.8 419.2" stroke="#ff1aff" stroke-opacity="0.55" stroke-width="0.8"/>
<path d="M140.2 418.2L141.8 419.8M140.2 419.8L141.8 418.2" stroke="#0a0aff" stroke-opacity="0.55" stroke-width="0.8"/>
<path d="M144.2 418.2L145.8 419.8M144.2 419.8L145.8 418.2" stroke="#ff0a0a" stroke-opacity="0.55" stroke-width="0.8"/>
<path d="M154.2 414.2L155.8 415.8M154.2 415.8L155.8 414.2" stroke="#70109a" stroke-opacity="0.55" stroke-width="0.8"/>
<path d="M156.2 413.2L157.8 414.8M156.2 414.8L157.8 413.2" stroke="#0a0aff" stroke-opacity="0.55" stroke-width="0.8"/>
<path d="M157.2 410.2L158.8 411.8M157.2 411.8L158.8 410.2" stroke="#f2a900" stroke-opacity="0.55" stroke-width="0.8"/>
<path d="M160.2 406.2L161.8 407.8M160.2 407.8L161.8 406.2" stroke="#0a0aff" stroke-opacity="0.55" stroke-width="0.8"/>
<path d="M159.2 411.2L160.8 412.8M159.2 412.8L160.8 411.2" stroke="#f2a900" stroke-opacity="0.55" stroke-width="0.8"/>
<path d="M158.2 416.2L159.8 417.8M158.2 417.8L159.8 416.2" stroke="#ff1aff" stroke-opacity="0.55" stroke-width="0.8"/>
<path d="M151.2 417.2L152.8 418.8M151.2 418.8L152.8 417.2" stroke="#5e9e20" stroke-opacity="0.55" stroke-width="0.8"/>
<path d="M147.2 415.2L148.8 416.8M147.2 416.8L148.8 415.2" stroke="#3db8f5" stroke-opacity="0.55" stroke-width="0.8"/>
<path d="M149.2 409.7L150.8 411.3M149.2 411.3L150.8 409.7" stroke="#ff1aff" stroke-opacity="0.55" stroke-width="0.8"/>
<path d="M156.2 406.2L157.8 407.8M156.2 407.8L157.8 406.2" stroke="#5e9e20" stroke-opacity="0.55" stroke-width="0.8"/>
<path d="M155.2 409.2L156.8 410.8M155.2 410.8L156.8 409.2" stroke="#22ee22" stroke-opacity="0.55" stroke-width="0.8"/>
<path d="M153.7 393.7L155.3 395.3M153.7 395.3L155.3 393.7" stroke="#ff1aff" stroke-opacity="0.55" stroke-width="0.8"/>
<path d="M146.2 397.2L147.8 398.8M146.2 398.8L147.8 397.2" stroke="#ff0a0a" stroke-opacity="0.55" stroke-width="0.8"/>
<path d="M153.2 414.7L154.8 416.3M153.2 416.3L154.8 414.7" stroke="#3db8f5" stroke-opacity="0.55" stroke-width="0.8"/>
<path d="M155.2 414.2L156.8 415.8M155.2 415.8L156.8 414.2" stroke="#0a0aff" stroke-opacity="0.55" stroke-width="0.8"/>
<path d="M140.7 415.7L142.3 417.3M140.7 417.3L142.3 415.7" stroke="#ff1aff" stroke-opacity="0.55" stroke-width="0.8"/>
<path d="M141.2 418.7L142.8 420.3M141.2 420.3L142.8 418.7" stroke="#3db8f5" stroke-opacity="0.55" stroke-width="0.8"/>
<path d="M147.2 420.2L148.8 421.8M147.2 421.8L148.8 420.2" stroke="#ff0a0a" stroke-opacity="0.55" stroke-width="0.8"/>
<path d="M129.2 403.2L130.8 404.8M129.2 404.8L130.8 403.2" stroke="#ff1aff" stroke-opacity="0.55" stroke-width="0.8"/>
<path d="M133.2 404.2L134.8 405.8M133.2 405.8L134.8 404.2" stroke="#3db8f5" stroke-opacity="0.55" stroke-width="0.8"/>
<path d="M122.2 401.2L123.8 402.8M122.2 402.8L123.8 401.2" stroke="#3db8f5" stroke-opacity="0.55" stroke-width="0.8"/>
<path d="M120.2 408.2L121.8 409.8M120.2 409.8L121.8 408.2" stroke="#ff1aff" stroke-opacity="0.55" stroke-width="0.8"/>
<path d="M135.2 413.2L136.8 414.8M135.2 414.8L136.8 413.2" stroke="#22ee22" stroke-opacity="0.55" stroke-width="0.8"/>
<path d="M129.2 416.2L130.8 417.8M129.2 417.8L130.8 416.2" stroke="#3db8f5" stroke-opacity="0.55" stroke-width="0.8"/>
<path d="M152.2 401.2L153.8 402.8M152.2 402.8L153.8 401.2" stroke="#ff1aff" stroke-opacity="0.55" stroke-width="0.8"/>
<path d="M159.2 401.2L160.8 402.8M159.2 402.8L160.8 401.2" stroke="#ff1aff" stroke-opacity="0.55" stroke-width="0.8"/>
<path d="M156.2 398.2L157.8 399.8M156.2 399.8L157.8 398.2" stroke="#3db8f5" stroke-opacity="0.55" stroke-width="0.8"/>
<path d="M127.2 419.2L128.8 420.8M127.2 420.8L128.8 419.2" stroke="#ff1aff" stroke-opacity="0.55" stroke-width="0.8"/>
<path d="M134.2 395.2L135.8 396.8M134.2 396.8L135.8 395.2" stroke="#ff1aff" stroke-opacity="0.55" stroke-width="0.8"/>
<path d="M98.2 399.2L99.8 400.8M98.2 400.8L99.8 399.2" stroke="#ff1aff" stroke-opacity="0.55" stroke-width="0.8"/>
<circle cx="100.8" cy="293.6" r="1.68" fill="#0a66c2"/>
<circle cx="106.3" cy="330.8" r="1.68" fill="#ff1aff"/>
<circle cx="170.6" cy="325.4" r="1.68" fill="#e2471a"/>
<circle cx="166.2" cy="332.6" r="1.68" fill="#0a0aff"/>
<circle cx="185.1" cy="345.3" r="1.68" fill="#ff1aff"/>
<circle cx="154.4" cy="356.4" r="1.68" fill="#3db8f5"/>
<circle cx="160.4" cy="356.4" r="1.68" fill="#0a66c2"/>
<circle cx="183" cy="370.2" r="1.68" fill="#e2471a"/>
<circle cx="150.4" cy="370.4" r="1.68" fill="#e2471a"/>
<circle cx="183.3" cy="378" r="1.68" fill="#f2a900"/>
<circle cx="125.4" cy="365.8" r="1.68" fill="#0a66c2"/>
<circle cx="123.5" cy="371.9" r="1.68" fill="#0a66c2"/>
<circle cx="108.8" cy="373.3" r="1.68" fill="#ff1aff"/>
<circle cx="105.8" cy="374.5" r="1.68" fill="#ff1aff"/>
<circle cx="156.3" cy="377.8" r="1.68" fill="#0a0aff"/>
<circle cx="162.9" cy="380.9" r="1.68" fill="#0a0aff"/>
<circle cx="167.8" cy="382.6" r="1.68" fill="#ff0a0a"/>
<circle cx="128.3" cy="380.3" r="1.68" fill="#0a66c2"/>
<circle cx="125.3" cy="382.1" r="1.68" fill="#5e9e20"/>
<circle cx="126.3" cy="384.6" r="1.68" fill="#0a66c2"/>
<circle cx="67" cy="383.3" r="1.68" fill="#f2a900"/>
<circle cx="115" cy="393" r="1.68" fill="#ff0a0a"/>
<circle cx="108.6" cy="403.6" r="1.68" fill="#ff1aff"/>
<circle cx="142.5" cy="392.9" r="1.68" fill="#22ee22"/>
<circle cx="152.3" cy="392.6" r="1.68" fill="#0a0aff"/>
<circle cx="167.9" cy="397.6" r="1.68" fill="#0a66c2"/>
<circle cx="125.4" cy="397.5" r="1.68" fill="#f2a900"/>
<circle cx="125.9" cy="398.6" r="1.68" fill="#5e9e20"/>
<circle cx="130.3" cy="400.5" r="1.68" fill="#0a0aff"/>
<circle cx="136.3" cy="400.3" r="1.68" fill="#0a66c2"/>
<circle cx="138.1" cy="398.3" r="1.68" fill="#f2a900"/>
<circle cx="139.2" cy="400.7" r="1.68" fill="#ff0a0a"/>
<circle cx="143" cy="398.7" r="1.68" fill="#0a66c2"/>
<circle cx="145.6" cy="396.8" r="1.68" fill="#3db8f5"/>
<circle cx="145.5" cy="401.2" r="1.68" fill="#3db8f5"/>
<circle cx="142.7" cy="402.7" r="1.68" fill="#70109a"/>
<circle cx="147.5" cy="404.8" r="1.68" fill="#0a66c2"/>
<circle cx="151.4" cy="405.4" r="1.68" fill="#5e9e20"/>
<circle cx="154" cy="407.1" r="1.68" fill="#0a66c2"/>
<circle cx="137.9" cy="405.9" r="1.68" fill="#3db8f5"/>
<circle cx="147.3" cy="408" r="1.68" fill="#0a0aff"/>
<circle cx="145.4" cy="409.3" r="1.68" fill="#ff1aff"/>
<circle cx="133.3" cy="412.3" r="1.68" fill="#ff0a0a"/>
<circle cx="151.4" cy="412.1" r="1.68" fill="#8b1020"/>
<circle cx="128.4" cy="415.4" r="1.68" fill="#0a0aff"/>
<line x1="116.9" y1="37.2" x2="116.9" y2="190.9" stroke="#1a1a1a" stroke-width="1.5" stroke-dasharray="2 1.7"/>
<line x1="158.4" y1="37.2" x2="158.4" y2="190.9" stroke="#1a1a1a" stroke-width="1.5" stroke-dasharray="2 1.7"/>
<line x1="33" y1="139.4" x2="239" y2="139.4" stroke="#1a1a1a" stroke-width="1.25" stroke-dasharray="2.3 1.4"/>
<line x1="368.3" y1="38.4" x2="368.3" y2="207" stroke="#1a1a1a" stroke-width="1.25" stroke-dasharray="2 1.7"/>
<line x1="429.6" y1="38.4" x2="429.6" y2="207" stroke="#1a1a1a" stroke-width="1.25" stroke-dasharray="2 1.7"/>
<line x1="280.5" y1="177.5" x2="514.5" y2="177.5" stroke="#1a1a1a" stroke-width="1.25" stroke-dasharray="2.3 1.4"/>
<line x1="118.5" y1="261.4" x2="118.5" y2="422.3" stroke="#1a1a1a" stroke-width="1.3" stroke-dasharray="1.9 1.73"/>
<line x1="160.3" y1="261.4" x2="160.3" y2="422.3" stroke="#1a1a1a" stroke-width="1.3" stroke-dasharray="1.9 1.73"/>
<line x1="33" y1="376.25" x2="247.5" y2="376.25" stroke="#1a1a1a" stroke-width="1.25" stroke-dasharray="2.3 1.4"/>
<text x="106" y="100.6" font-size="7.5" font-weight="bold" text-anchor="start" fill="#111" textLength="8.6" lengthAdjust="spacingAndGlyphs">C9</text>
<text x="46.0" y="117.9" font-size="7.5" font-weight="bold" text-anchor="start" fill="#111" textLength="66.3" lengthAdjust="spacingAndGlyphs">Methylmalonic acid</text>
<text x="37.2" y="129.7" font-size="7.5" font-weight="bold" text-anchor="start" fill="#111" textLength="75.8" lengthAdjust="spacingAndGlyphs">p-Hydroxyhippuric acid</text>
<text x="164.8" y="107.3" font-size="7.5" font-weight="bold" text-anchor="start" fill="#111" textLength="38.5" lengthAdjust="spacingAndGlyphs">Kynurenine</text>
<text x="162.9" y="117.9" font-size="7.5" font-weight="bold" text-anchor="start" fill="#111" textLength="46.7" lengthAdjust="spacingAndGlyphs">Glutamic acid</text>
<text x="168.2" y="135.6" font-size="7.5" font-weight="bold" text-anchor="start" fill="#111" textLength="79.8" lengthAdjust="spacingAndGlyphs">Alpha-ketoglutaric acid</text>
<text x="433.6" y="59.9" font-size="7.5" font-weight="bold" text-anchor="start" fill="#111" textLength="39.7" lengthAdjust="spacingAndGlyphs">Asymmetric</text>
<text x="433.8" y="67.6" font-size="7.5" font-weight="bold" text-anchor="start" fill="#111" textLength="55.8" lengthAdjust="spacingAndGlyphs">dimethylarginine</text>
<text x="436.6" y="143.5" font-size="7.5" font-weight="bold" text-anchor="start" fill="#111" textLength="74.7" lengthAdjust="spacingAndGlyphs">Methionone-sulfoxide</text>
<text x="472.9" y="159.0" font-size="7.5" font-weight="bold" text-anchor="start" fill="#111" textLength="38.8" lengthAdjust="spacingAndGlyphs">Spermidine</text>
<text x="433.1" y="174.6" font-size="7.5" font-weight="bold" text-anchor="start" fill="#111" textLength="80.3" lengthAdjust="spacingAndGlyphs">Alpha-ketoglutaric acid</text>
<rect x="103.6" y="291.2" width="30.6" height="7.4" fill="#fff"/>
<rect x="108.7" y="327.6" width="30.2" height="7.0" fill="#fff"/>
<text x="103.8" y="296.8" font-size="6.5" font-weight="bold" text-anchor="start" fill="#111" textLength="30.0" lengthAdjust="spacingAndGlyphs">Glutamine</text>
<text x="109.2" y="332.6" font-size="6.5" font-weight="bold" text-anchor="start" fill="#111" textLength="28.9" lengthAdjust="spacingAndGlyphs">Citric acid</text>
<text x="92.5" y="365.8" font-size="6.8" font-weight="bold" text-anchor="start" fill="#111" textLength="22.6" lengthAdjust="spacingAndGlyphs">Betaine</text>
<text x="34.9" y="372.2" font-size="6.8" font-weight="bold" text-anchor="start" fill="#111" textLength="69.0" lengthAdjust="spacingAndGlyphs">p-Hydroxyhippuric acid</text>
<text x="173.6" y="326.7" font-size="7.6" font-weight="bold" text-anchor="start" fill="#111" textLength="38.8" lengthAdjust="spacingAndGlyphs">Kynurenine</text>
<text x="169.2" y="334.3" font-size="7.6" font-weight="bold" text-anchor="start" fill="#111" textLength="25.8" lengthAdjust="spacingAndGlyphs">18:0SM</text>
<text x="188.8" y="347.7" font-size="7.6" font-weight="bold" text-anchor="start" fill="#111" textLength="80.1" lengthAdjust="spacingAndGlyphs">Alpha-ketoglutaric acid</text>
<text x="162.7" y="358.2" font-size="7.6" font-weight="bold" text-anchor="start" fill="#111" textLength="46.9" lengthAdjust="spacingAndGlyphs">Glutamic acid</text>
<text x="185.8" y="372.0" font-size="7.6" font-weight="bold" text-anchor="start" fill="#111" textLength="52.4" lengthAdjust="spacingAndGlyphs">Methylhistidine</text>
<rect x="0.5" y="0.5" width="519" height="454" fill="none" stroke="#000" stroke-width="1.2"/>
</svg>
</body></html>
